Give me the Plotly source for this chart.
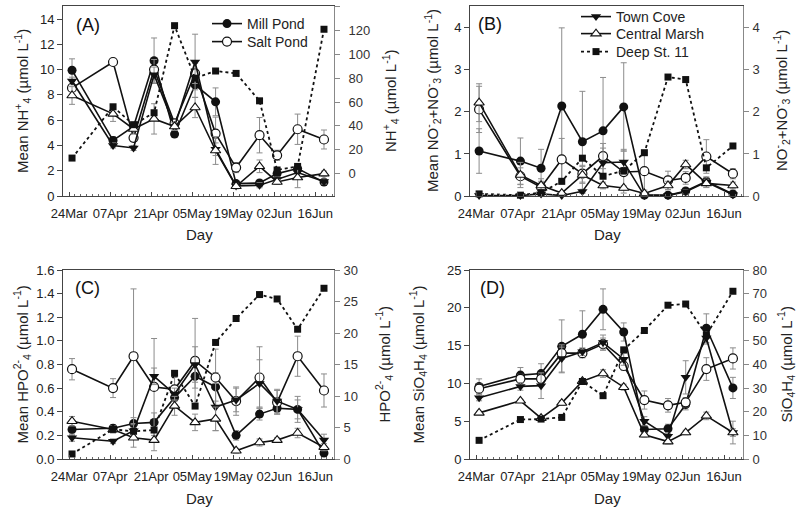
import plotly.graph_objects as go

# ---------------- data ----------------
dates = ["2009-03-25", "2009-04-08", "2009-04-15", "2009-04-22", "2009-04-29", "2009-05-06",
         "2009-05-13", "2009-05-20", "2009-05-28", "2009-06-03", "2009-06-10", "2009-06-19"]
tick_dates = ["2009-03-24", "2009-04-07", "2009-04-21", "2009-05-05", "2009-05-19", "2009-06-02", "2009-06-16"]

# Panel A: NH4+
mill_A = [9.95, 4.4, 5.5, 10.7, 4.9, 8.8, 7.45, 0.98, 1.03, 1.77, 2.17, 1.1]
mill_A_err = [0.9, 0.3, 0.3, 1.8, 0.2, 1.0, 1.1, 0.2, 0.2, 0.3, 0.3, 0.15]
salt_A = [8.55, 10.6, 4.6, 10.0, 5.75, 9.7, 4.94, 2.25, 4.81, 3.22, 5.28, 4.47]
salt_A_err = [0.6, 0.2, 0.3, 0.8, 0.3, 0.8, 1.3, 0.4, 1.4, 0.4, 1.2, 0.75]
town_A = [9.1, 4.0, 3.8, 9.6, 5.5, 10.6, 3.7, 0.8, 0.85, 1.3, 1.85, 1.15]
town_A_err = [0.3, 0.2, 0.2, 0.6, 0.3, 2.2, 0.5, 0.2, 0.2, 0.2, 0.3, 0.2]
cm_A = [7.95, 6.5, 5.3, 6.1, 5.5, 7.0, 3.6, 0.77, 2.35, 1.11, 1.46, 1.77]
cm_A_err = [0.7, 0.6, 0.4, 1.2, 0.3, 0.8, 1.1, 0.2, 0.5, 0.2, 0.8, 0.2]
deep_A = [13, 56, 41, 51, 124, 80, 86, 84, 61, 3, 6, 121]

# Panel B: NO2- + NO3-
mill_B = [1.07, 0.83, 0.66, 2.14, 1.29, 1.55, 2.12, 0.02, 0.02, 0.12, 0.35, 0.05]
mill_B_err = [0.53, 0.55, 0.45, 1.86, 1.2, 1.27, 1.05, 0.02, 0.02, 0.05, 0.1, 0.02]
salt_B = [2.06, 0.47, 0.21, 0.87, 0.53, 0.95, 0.57, 0.59, 0.37, 0.43, 0.94, 0.53]
salt_B_err = [0.55, 0.2, 0.2, 0.5, 0.2, 0.3, 0.5, 0.45, 0.22, 0.15, 0.4, 0.12]
town_B = [0.01, 0.01, 0.05, 0.01, 0.11, 0.79, 0.81, 0.01, 0.01, 0.1, 0.33, 0.03]
town_B_err = [0.02, 0.02, 0.05, 0.02, 0.05, 0.35, 0.3, 0.02, 0.02, 0.05, 0.12, 0.02]
cm_B = [2.22, 0.5, 0.25, 0.07, 0.5, 0.25, 0.19, 0.06, 0.25, 0.75, 0.3, 0.25]
cm_B_err = [0.45, 0.3, 0.1, 0.03, 0.2, 0.08, 0.05, 0.03, 0.1, 0.1, 0.1, 0.08]
deep_B = [0.05, 0.02, 0.08, 0.35, 0.9, 0.47, 0.6, 1.03, 2.83, 2.77, 0.67, 1.19]

# Panel C: HPO4 2-
mill_C = [0.25, 0.26, 0.3, 0.31, 0.52, 0.7, 0.61, 0.2, 0.38, 0.43, 0.42, 0.05]
mill_C_err = [0.05, 0.03, 0.05, 0.08, 0.06, 0.1, 0.12, 0.04, 0.05, 0.05, 0.11, 0.02]
salt_C = [0.76, 0.6, 0.87, 0.61, 0.59, 0.83, 0.69, 0.49, 0.69, 0.48, 0.87, 0.58]
salt_C_err = [0.09, 0.08, 0.57, 0.41, 0.1, 0.36, 0.24, 0.12, 0.26, 0.1, 0.17, 0.14]
town_C = [0.18, 0.15, 0.24, 0.7, 0.55, 0.8, 0.44, 0.5, 0.64, 0.49, 0.42, 0.16]
town_C_err = [0.03, 0.02, 0.05, 0.07, 0.05, 0.15, 0.2, 0.1, 0.2, 0.1, 0.08, 0.05]
cm_C = [0.32, 0.25, 0.18, 0.16, 0.45, 0.31, 0.34, 0.07, 0.14, 0.16, 0.22, 0.1]
cm_C_err = [0.04, 0.03, 0.08, 0.09, 0.08, 0.07, 0.1, 0.02, 0.03, 0.02, 0.04, 0.03]
deep_C = [0.8, 4.7, 4.4, 4.6, 13.6, 8.4, 18.5, 22.3, 26.1, 25.4, 20.6, 27.1]

# Panel D: SiO4H4
mill_D = [9.6, 11.1, 11.3, 14.9, 16.5, 19.8, 16.8, 3.9, 4.0, 7.2, 17.3, 9.4]
mill_D_err = [1.0, 1.0, 1.3, 3.5, 3.1, 2.7, 1.2, 0.5, 0.6, 0.7, 1.9, 1.4]
salt_D = [9.3, 10.6, 10.6, 14.0, 14.0, 15.2, 12.3, 7.8, 7.1, 7.5, 11.9, 13.3]
salt_D_err = [0.6, 0.6, 0.6, 0.8, 0.6, 0.8, 0.6, 1.2, 0.9, 0.6, 1.5, 1.4]
town_D = [8.1, 9.6, 9.7, 13.3, 14.2, 15.4, 13.2, 5.0, 3.0, 10.8, 16.0, 3.5]
town_D_err = [0.4, 0.5, 1.7, 1.8, 0.5, 1.0, 0.8, 0.6, 0.5, 2.2, 0.8, 1.5]
cm_D = [6.1, 7.7, 5.4, 7.4, 10.3, 11.3, 9.5, 3.2, 2.3, 3.5, 5.7, 3.5]
cm_D_err = [0.2, 0.2, 0.3, 0.3, 0.3, 0.5, 0.4, 0.3, 0.3, 0.3, 0.5, 0.5]
deep_D = [7.9, 16.7, 16.9, 17.6, 32.8, 26.8, 46.2, 54.4, 65.1, 65.6, 52.5, 71.0]

series_names = ["Mill Pond", "Salt Pond", "Town Cove", "Central Marsh", "Deep St. 11"]
panel_labels = ["(A)", "(B)", "(C)", "(D)"]
left_titles = ["Mean NH<sup>+</sup><sub>4</sub> (µmol L<sup>-1</sup>)",
               "Mean NO<sup>-</sup><sub>2</sub>+NO<sup>-</sup><sub>3</sub> (µmol L<sup>-1</sup>)",
               "Mean HPO<sup>2-</sup><sub>4</sub> (µmol L<sup>-1</sup>)",
               "Mean SiO<sub>4</sub>H<sub>4</sub> (µmol L<sup>-1</sup>)"]
right_titles = ["NH<sup>+</sup><sub>4</sub> (µmol L<sup>-1</sup>)",
                "NO<sup>-</sup><sub>2</sub>+NO<sup>-</sup><sub>3</sub> (µmol L<sup>-1</sup>)",
                "HPO<sup>2-</sup><sub>4</sub> (µmol L<sup>-1</sup>)",
                "SiO<sub>4</sub>H<sub>4</sub> (µmol L<sup>-1</sup>)"]
x_title = "Day"

panel_data = [
    (mill_A, mill_A_err, salt_A, salt_A_err, town_A, town_A_err, cm_A, cm_A_err, deep_A),
    (mill_B, mill_B_err, salt_B, salt_B_err, town_B, town_B_err, cm_B, cm_B_err, deep_B),
    (mill_C, mill_C_err, salt_C, salt_C_err, town_C, town_C_err, cm_C, cm_C_err, deep_C),
    (mill_D, mill_D_err, salt_D, salt_D_err, town_D, town_D_err, cm_D, cm_D_err, deep_D),
]

# ---------------- layout geometry (pixels) ----------------
W, H = 800, 507
FONT = "Liberation Sans, Arial, sans-serif"
px_x = [(63, 334), (470, 743), (63, 334), (470, 743)]
px_y = [(6, 196), (6, 196), (270, 459), (270, 459)]
left_ranges = [[0, 15.03], [0, 4.52], [0, 1.6], [0, 25]]
left_dticks = [2, 1, 0.2, 5]
left_fmt = ["", "", ".1f", ""]
right_ranges = [[-18.8, 140.5], [0, 4.52], [0, 30], [0, 80]]
right_dticks = [20, 1, 5, 10]
right_standoff = [6, 1, 1, 1]
left_title_x = [22, 432, 22, 418]
right_title_x = [390, 781, 384, 786]
label_pos = [(88, 25), (490, 24), (87, 288), (492, 288)]
# legend entry positions: (left x of symbol box, row centre y)
legend_pos = [(207, 24), (207, 42), (576, 17), (576, 34), (576, 52)]

def fx(p):
    return p / W

def fy(p):
    return 1 - p / H

fig = go.Figure()
layout = dict(
    width=W, height=H, margin=dict(l=0, r=0, t=0, b=0, autoexpand=False),
    paper_bgcolor="white", plot_bgcolor="white",
    font=dict(family=FONT, size=13, color="#222"),
    annotations=[],
)

DAY = 86400000
legend_keys = ["legend", "legend2", "legend3", "legend4", "legend5"]
for i in range(4):
    xn = "" if i == 0 else str(i + 1)
    yl = 2 * i + 1
    yr = 2 * i + 2
    yl_name = "" if yl == 1 else str(yl)
    yr_name = str(yr)
    layout["xaxis" + xn] = dict(
        domain=[fx(px_x[i][0]), fx(px_x[i][1])],
        anchor="y" + yl_name, type="date",
        range=["2009-03-21 22:00", "2009-06-22 10:00"],
        tickvals=tick_dates, tickformat="%d%b", tickangle=0,
        ticks="inside", ticklen=4, tickcolor="#444",
        minor=dict(dtick=2 * DAY, tick0="2009-03-24", ticks="inside", ticklen=2.5, tickcolor="#666"),
        showline=True, linecolor="#444", linewidth=1, mirror=True,
        showgrid=False, zeroline=False, ticklabelstandoff=5, automargin=False,
        tickfont=dict(size=13, color="#222"),
    )
    layout["yaxis" + yl_name] = dict(
        domain=[fy(px_y[i][1]), fy(px_y[i][0])],
        anchor="x" + xn, range=left_ranges[i], dtick=left_dticks[i], tick0=0,
        tickformat=left_fmt[i], automargin=False,
        ticks="outside", ticklen=5, tickcolor="#444",
        showline=True, linecolor="#444", linewidth=1,
        showgrid=False, zeroline=False,
        tickfont=dict(size=13, color="#222"),
    )
    layout["yaxis" + yr_name] = dict(
        overlaying="y" + yl_name, side="right",
        anchor="x" + xn, range=right_ranges[i], dtick=right_dticks[i], tick0=0,
        ticks="outside", ticklen=5, tickcolor="#888", automargin=False,
        showline=True, linecolor="#888", linewidth=1,
        showgrid=False, zeroline=False, ticklabelstandoff=right_standoff[i],
        tickfont=dict(size=13, color="#333"),
    )

    mill, mill_e, salt, salt_e, town, town_e, cm, cm_e, deep = panel_data[i]
    err_style = dict(type="data", color="#8c8c8c", thickness=1, width=3)
    common = dict(x=dates, xaxis="x" + xn, cliponaxis=False)

    def leg(k, show):
        return dict(legend=legend_keys[k], showlegend=show)

    fig.add_trace(go.Scatter(y=mill, name=series_names[0], yaxis="y" + yl_name, mode="lines+markers",
                             line=dict(color="#111", width=1.6),
                             marker=dict(symbol="circle", size=9, color="#111"),
                             error_y=dict(array=mill_e, **err_style), **common, **leg(0, i == 0)))
    fig.add_trace(go.Scatter(y=salt, name=series_names[1], yaxis="y" + yl_name, mode="lines+markers",
                             line=dict(color="#111", width=1.6),
                             marker=dict(symbol="circle", size=9, color="white", line=dict(color="#111", width=1.2)),
                             error_y=dict(array=salt_e, **err_style), **common, **leg(1, i == 0)))
    fig.add_trace(go.Scatter(y=town, name=series_names[2], yaxis="y" + yl_name, mode="lines+markers",
                             line=dict(color="#111", width=1.6),
                             marker=dict(symbol="triangle-down", size=9, color="#111"),
                             error_y=dict(array=town_e, **err_style), **common, **leg(2, i == 1)))
    fig.add_trace(go.Scatter(y=cm, name=series_names[3], yaxis="y" + yl_name, mode="lines+markers",
                             line=dict(color="#111", width=1.6),
                             marker=dict(symbol="triangle-up", size=9, color="white", line=dict(color="#111", width=1.1)),
                             error_y=dict(array=cm_e, **err_style), **common, **leg(3, i == 1)))
    fig.add_trace(go.Scatter(y=deep, name=series_names[4], yaxis="y" + yr_name, mode="lines+markers",
                             line=dict(color="#111", width=1.8, dash="dot"),
                             marker=dict(symbol="square", size=7, color="#111"),
                             **common, **leg(4, i == 1)))

    cy = (px_y[i][0] + px_y[i][1]) / 2
    cx = (px_x[i][0] + px_x[i][1]) / 2
    layout["annotations"] += [
        dict(text=left_titles[i], x=fx(left_title_x[i]), y=fy(cy), xref="paper", yref="paper",
             textangle=-90, showarrow=False, font=dict(size=15, color="#222"), xanchor="center", yanchor="middle"),
        dict(text=right_titles[i], x=fx(right_title_x[i]), y=fy(cy), xref="paper", yref="paper",
             textangle=-90, showarrow=False, font=dict(size=15, color="#222"), xanchor="center", yanchor="middle"),
        dict(text=x_title, x=fx(cx + 1), y=fy(px_y[i][1] + 39), xref="paper", yref="paper",
             showarrow=False, font=dict(size=15, color="#222"), xanchor="center", yanchor="middle"),
        dict(text=panel_labels[i], x=fx(label_pos[i][0]), y=fy(label_pos[i][1]), xref="paper", yref="paper",
             showarrow=False, font=dict(size=18, color="#111"), xanchor="center", yanchor="middle"),
    ]

for k, key in enumerate(legend_keys):
    layout[key] = dict(x=fx(legend_pos[k][0]), y=fy(legend_pos[k][1]), xanchor="left", yanchor="middle",
                       bgcolor="rgba(0,0,0,0)", font=dict(size=14, color="#222"),
                       tracegroupgap=0, itemsizing="trace")

fig.update_layout(**layout)
fig.write_html("out.html", config={"displayModeBar": False},
               post_script="document.body.style.margin='0';document.body.style.overflow='hidden';")
